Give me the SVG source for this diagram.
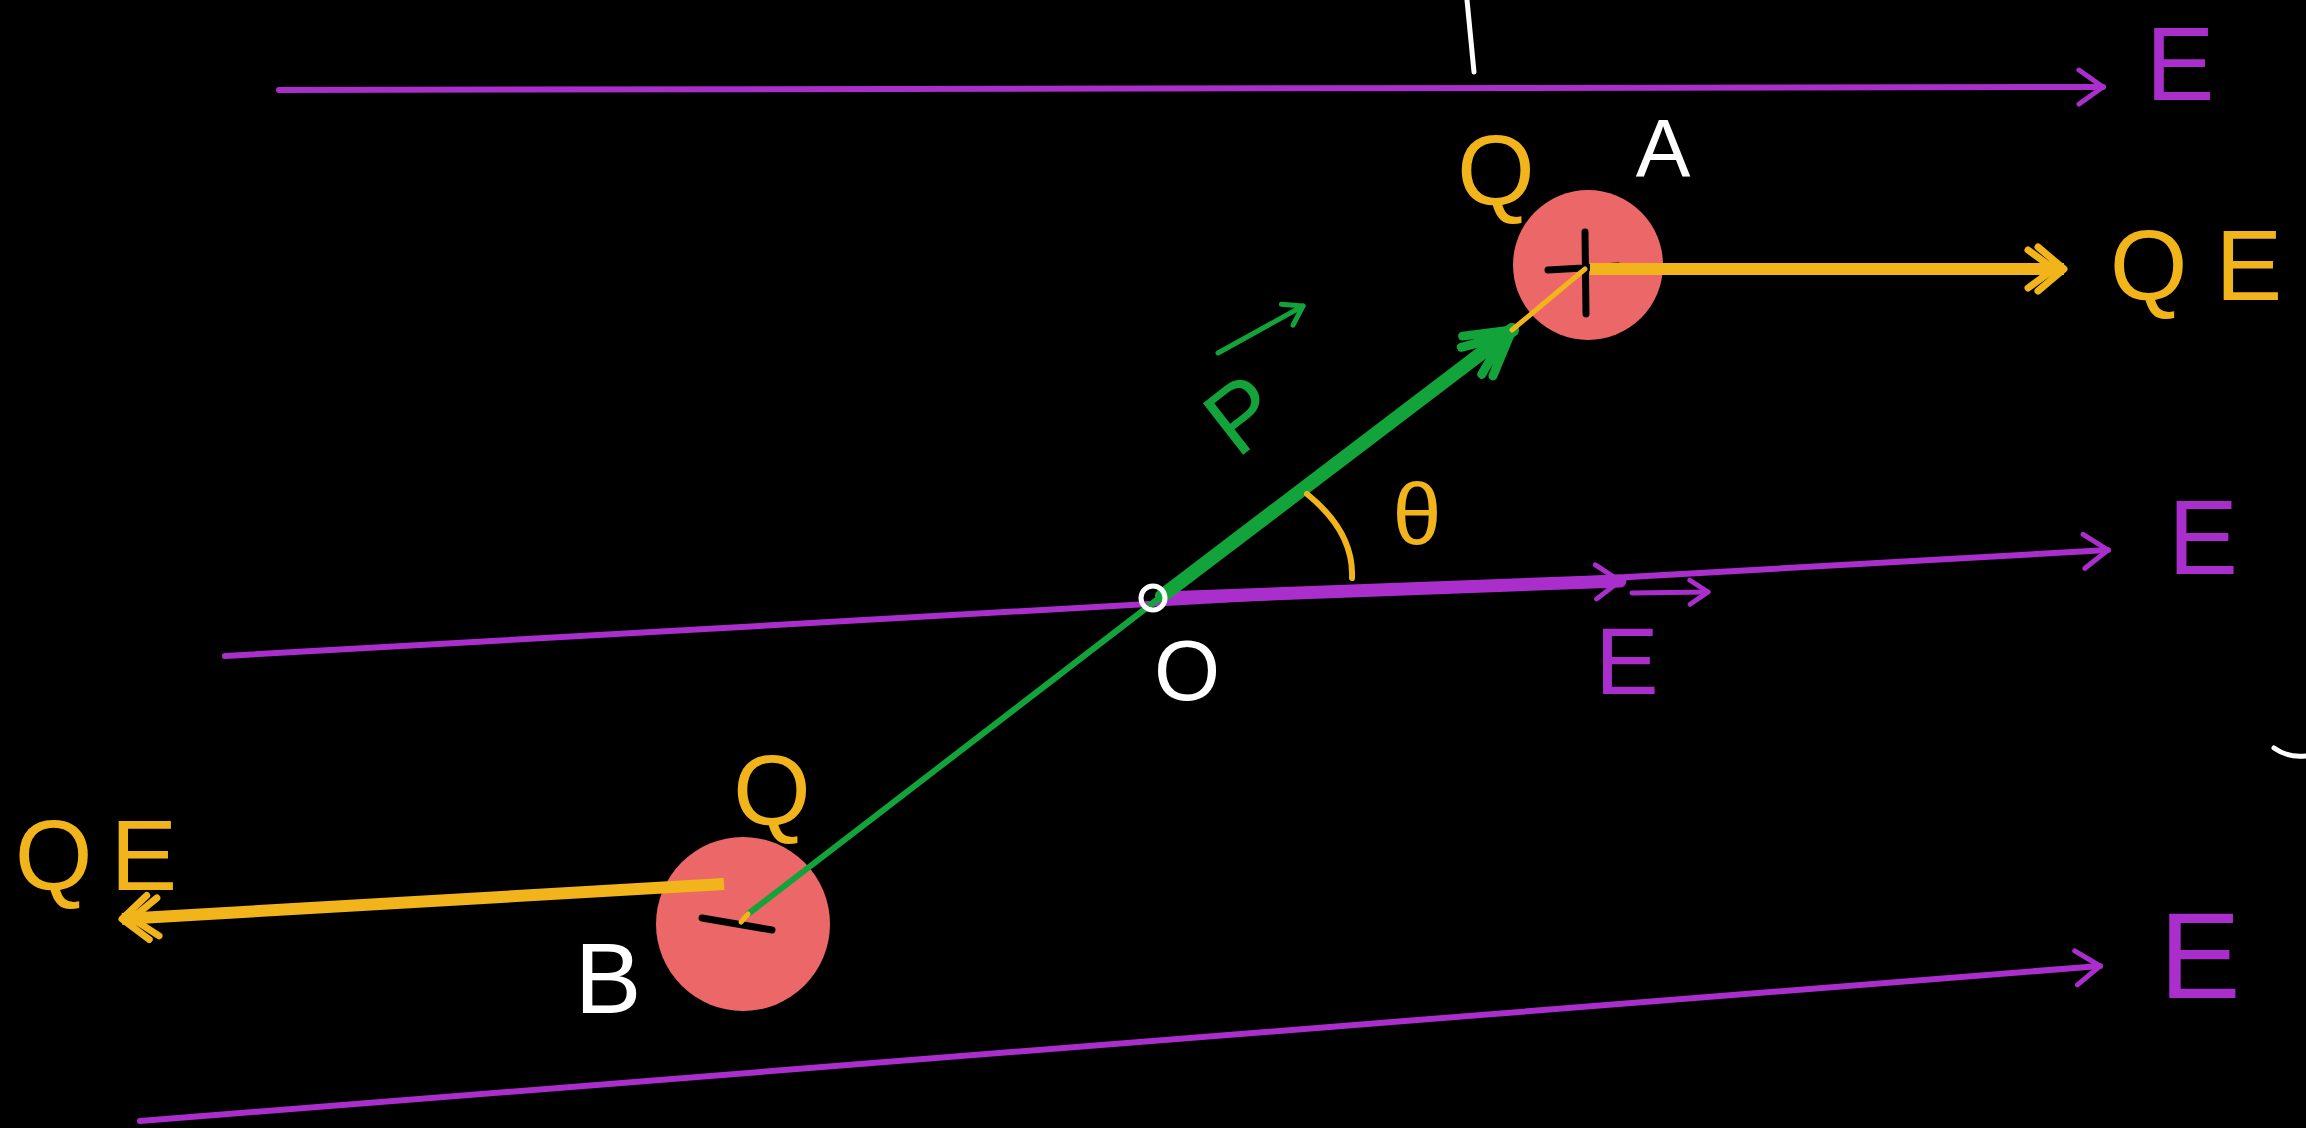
<svg xmlns="http://www.w3.org/2000/svg" width="2306" height="1128" viewBox="0 0 2306 1128">
<style>
.t{font-family:"Liberation Sans","DejaVu Sans",sans-serif;}
.pu{fill:#A92ECB}
.ye{fill:#F1B51B}
.gr{fill:#12A33B}
.wh{fill:#FFFFFF}
.fl{stroke:#A92ECB;stroke-width:6;fill:none;stroke-linecap:round}
.force{stroke:#F1B51B;stroke-width:12;fill:none;stroke-linecap:butt}
.charge{fill:#EC6868}
.sign{stroke:#000;stroke-width:7;stroke-linecap:round;fill:none}
</style>
<defs>
<marker id="chevP" viewBox="0 0 30 40" refX="27" refY="20" markerWidth="30" markerHeight="40" markerUnits="userSpaceOnUse" orient="auto">
<path d="M3,3 L27,20 L3,37" fill="none" stroke="#A92ECB" stroke-width="5" stroke-linecap="round" stroke-linejoin="round"/>
</marker>
<marker id="chevPs" viewBox="0 0 24 30" refX="21" refY="15" markerWidth="24" markerHeight="30" markerUnits="userSpaceOnUse" orient="auto">
<path d="M3,3 L21,15 L3,27" fill="none" stroke="#A92ECB" stroke-width="5" stroke-linecap="round" stroke-linejoin="round"/>
</marker>
<marker id="chevY" viewBox="0 0 46 54" refX="42" refY="27" markerWidth="46" markerHeight="54" markerUnits="userSpaceOnUse" orient="auto">
<path d="M16,5 L42,27 L16,49 M6,8 L32,27 L6,46" fill="none" stroke="#F1B51B" stroke-width="7" stroke-linecap="round" stroke-linejoin="round"/>
</marker>
<marker id="chevG" viewBox="0 0 60 60" refX="55" refY="30" markerWidth="60" markerHeight="60" markerUnits="userSpaceOnUse" orient="auto">
<path d="M12,5 L55,30 L12,55 M4,13 L45,30 L4,47" fill="none" stroke="#12A33B" stroke-width="9" stroke-linecap="round" stroke-linejoin="round"/>
</marker>
<marker id="chevGs" viewBox="0 0 24 30" refX="21" refY="15" markerWidth="24" markerHeight="30" markerUnits="userSpaceOnUse" orient="auto">
<path d="M3,3 L21,15 L3,27" fill="none" stroke="#12A33B" stroke-width="5" stroke-linecap="round" stroke-linejoin="round"/>
</marker>
</defs>
<rect width="2306" height="1128" fill="#000"/>

<g id="top-fragment">
<path d="M1467,0 L1474,72" stroke="#fff" stroke-width="5" fill="none" stroke-linecap="round"/>
</g>

<g id="charge-A">
<circle class="charge" cx="1588" cy="265" r="75"/>
<path class="sign" d="M1585,232 L1586,314 M1548,270 L1618,266"/>
</g>

<g id="charge-B">
<circle class="charge" cx="743" cy="924" r="87"/>
<path class="sign" d="M702,918 L772,930" stroke-width="9"/>
</g>

<g id="connectors">
<path class="fl" d="M279,90 L2103,87" marker-end="url(#chevP)"/>
<path class="fl" d="M225,656 L2108,550" marker-end="url(#chevP)"/>
<path class="fl" d="M140,1121 L2100,966" marker-end="url(#chevP)"/>
<path d="M1162,598 L1620,581" stroke="#A92ECB" stroke-width="13" fill="none" stroke-linecap="round" marker-end="url(#chevP)"/>
<path d="M1162,596 L748,914" stroke="#12A33B" stroke-width="6" fill="none" stroke-linecap="round"/>
<path d="M748,914 L741,922" stroke="#F1B51B" stroke-width="5" fill="none" stroke-linecap="round"/>
<path d="M1162,596 L1512,330" stroke="#12A33B" stroke-width="14" fill="none" stroke-linecap="round" marker-end="url(#chevG)"/>
<path d="M1512,330 L1585,269" stroke="#F1B51B" stroke-width="5" fill="none" stroke-linecap="round"/>
<path d="M1307,494 Q1354,532 1352,578" stroke="#F1B51B" stroke-width="6" fill="none" stroke-linecap="round"/>
<path class="force" d="M1590,269 L2064,269" marker-end="url(#chevY)"/>
<path class="force" d="M724,884 L122,919" marker-end="url(#chevY)"/>
</g>

<g id="point-O">
<circle cx="1153" cy="598" r="12" fill="none" stroke="#fff" stroke-width="5"/>
</g>

<g id="labels-A">
<text class="t ye" x="1496" y="205" font-size="100" text-anchor="middle">Q</text>
<text class="t wh" x="1663" y="176" font-size="82" text-anchor="middle">A</text>
<text class="t ye" x="2196" y="300" font-size="100" text-anchor="middle">Q E</text>
</g>

<g id="labels-B">
<text class="t ye" x="772" y="825" font-size="100" text-anchor="middle">Q</text>
<text class="t wh" x="608" y="1013" font-size="100" text-anchor="middle">B</text>
<text class="t ye" x="105" y="890" font-size="100" text-anchor="middle" letter-spacing="18">QE</text>
</g>

<g id="label-O">
<text class="t wh" x="1187" y="700" font-size="85" text-anchor="middle">O</text>
</g>

<g id="label-p">
<path d="M1218,353 L1303,306" stroke="#12A33B" stroke-width="5" fill="none" stroke-linecap="round" marker-end="url(#chevGs)"/>
<text class="t gr" x="0" y="0" font-size="95" text-anchor="middle" transform="translate(1262,440) rotate(-38)">P</text>
</g>

<g id="label-theta">
<text class="t ye" x="1417" y="544" font-size="88" text-anchor="middle">θ</text>
</g>

<g id="label-Evec">
<path d="M1632,593 L1708,592" stroke="#A92ECB" stroke-width="5" fill="none" stroke-linecap="round" marker-end="url(#chevPs)"/>
<text class="t pu" x="1627" y="694" font-size="95" text-anchor="middle">E</text>
</g>

<g id="field-labels">
<text class="t pu" x="2180" y="100" font-size="103" text-anchor="middle">E</text>
<text class="t pu" x="2203" y="574" font-size="105" text-anchor="middle">E</text>
<text class="t pu" x="2200" y="998" font-size="122" text-anchor="middle">E</text>
</g>

<g id="edge-fragment">
<path d="M2274,748 Q2288,758 2306,756" stroke="#fff" stroke-width="5" fill="none" stroke-linecap="round"/>
</g>
</svg>
